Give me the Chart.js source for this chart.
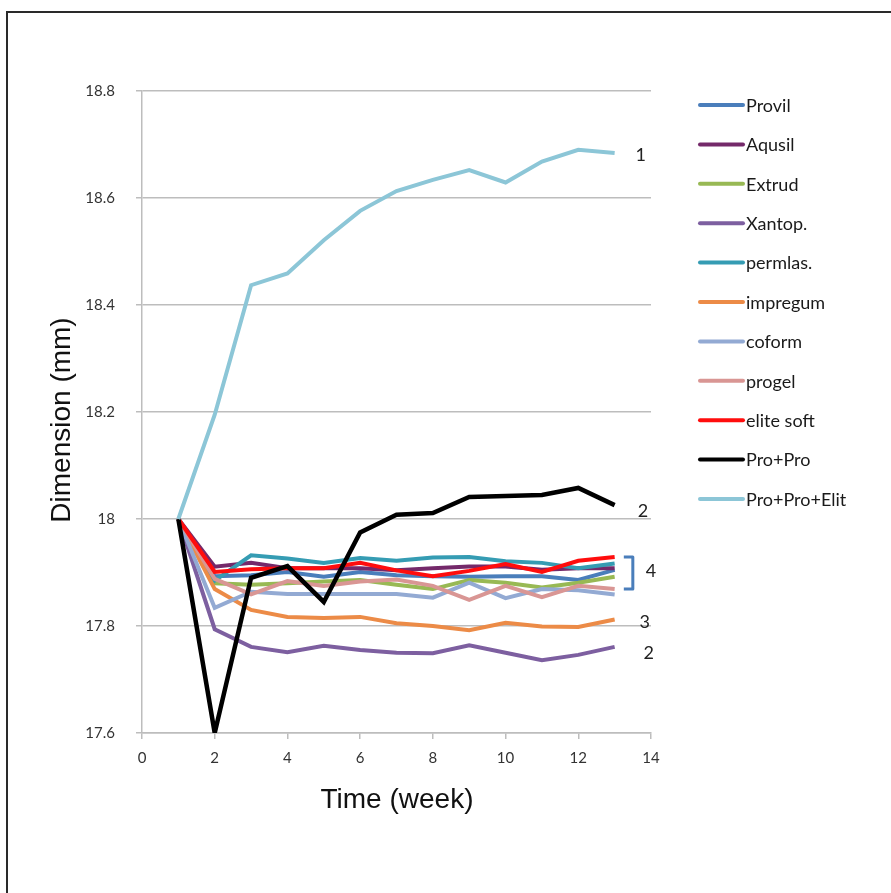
<!DOCTYPE html>
<html>
<head>
<meta charset="utf-8">
<script src="https://cdn.jsdelivr.net/npm/chart.js@4.4.1/dist/chart.umd.min.js"></script>
<style>
  html, body { margin: 0; padding: 0; background: #fff; }
  #wrap { position: absolute; left: 0; top: 0; width: 891px; height: 893px; overflow: hidden; }
  #frame { position: absolute; left: 6px; top: 11px; width: 1000px; height: 1000px;
           border-top: 2px solid #2a2a2a; border-left: 2px solid #2a2a2a; }
  canvas { position: absolute; left: 0; top: 0; }
</style>
</head>
<body>
<div id="wrap">
  <div id="frame"></div>
  <canvas id="c" width="891" height="893"></canvas>
</div>
<script>
// ---- data ----
const weeks = [1, 2, 3, 4, 5, 6, 7, 8, 9, 10, 11, 12, 13];
const seriesNames = ["Provil", "Aqusil", "Extrud", "Xantop.", "permlas.", "impregum", "coform", "progel", "elite soft", "Pro+Pro", "Pro+Pro+Elit"];
const provil     = [18, 17.893, 17.895, 17.901, 17.892, 17.901, 17.895, 17.893, 17.892, 17.893, 17.893, 17.886, 17.905];
const aqusil     = [18, 17.911, 17.918, 17.908, 17.908, 17.908, 17.904, 17.908, 17.911, 17.911, 17.905, 17.908, 17.908];
const extrud     = [18, 17.880, 17.877, 17.880, 17.883, 17.886, 17.877, 17.869, 17.886, 17.881, 17.872, 17.881, 17.892];
const xantop     = [18, 17.794, 17.761, 17.751, 17.763, 17.755, 17.750, 17.749, 17.764, 17.750, 17.736, 17.746, 17.761];
const permlas    = [18, 17.885, 17.932, 17.926, 17.918, 17.927, 17.922, 17.928, 17.929, 17.921, 17.918, 17.908, 17.917];
const impregum   = [18, 17.869, 17.830, 17.817, 17.815, 17.817, 17.805, 17.800, 17.792, 17.806, 17.799, 17.798, 17.812];
const coform     = [18, 17.834, 17.864, 17.860, 17.860, 17.860, 17.860, 17.853, 17.881, 17.852, 17.869, 17.867, 17.859];
const progel     = [18, 17.888, 17.859, 17.884, 17.875, 17.883, 17.887, 17.875, 17.849, 17.875, 17.854, 17.875, 17.869];
const eliteSoft  = [18, 17.901, 17.906, 17.908, 17.908, 17.918, 17.904, 17.893, 17.903, 17.916, 17.901, 17.922, 17.929];
const proPro     = [18, 17.600, 17.890, 17.912, 17.845, 17.975, 18.008, 18.011, 18.041, 18.043, 18.045, 18.058, 18.026];
const proProElit = [18, 18.195, 18.437, 18.459, 18.521, 18.576, 18.613, 18.634, 18.652, 18.629, 18.668, 18.690, 18.684];
const yTicks = [17.6, 17.8, 18, 18.2, 18.4, 18.6, 18.8];
const xTicks = [0, 2, 4, 6, 8, 10, 12, 14];
const annotations = [
  { text: "1", x: 13.72, y: 18.68 },
  { text: "2", x: 13.78, y: 18.015 },
  { text: "4", x: 14.0,  y: 17.903 },
  { text: "3", x: 13.83, y: 17.807 },
  { text: "2", x: 13.94, y: 17.75 }
];
const bracket = { x: 13.5, yTop: 17.929, yBottom: 17.869 };

// ---- styles ----
const allValues = [provil, aqusil, extrud, xantop, permlas, impregum, coform, progel, eliteSoft, proPro, proProElit];
const colors = ["#4A7EBB", "#74296A", "#98B954", "#7D5FA0", "#359CB3", "#EC8B47", "#93AAD3", "#D99694", "#FF0D0D", "#000000", "#8CC6D7"];
const widths = [4, 4, 4, 4, 4, 4, 4, 4, 4, 4.5, 4];

const datasets = seriesNames.map((name, i) => ({
  label: name,
  data: weeks.map((w, j) => ({ x: w, y: allValues[i][j] })),
  borderColor: colors[i],
  backgroundColor: colors[i],
  borderWidth: widths[i],
  pointRadius: 0,
  tension: 0,
  fill: false,
  order: seriesNames.length - i
}));

const TICK_FONT = { family: "Lato, 'Open Sans', sans-serif", size: 15 };
const GRID = "#BDBDBD";

const extras = {
  id: "extras",
  afterDraw(chart) {
    const ctx = chart.ctx;
    const xs = chart.scales.x, ys = chart.scales.y;
    ctx.save();
    // axis titles
    ctx.fillStyle = "#111";
    ctx.font = "28px 'Liberation Sans', Arial, sans-serif";
    ctx.textAlign = "center";
    ctx.textBaseline = "middle";
    ctx.fillText("Time (week)", 397, 800);
    ctx.save();
    ctx.translate(62, 420);
    ctx.rotate(-Math.PI / 2);
    ctx.fillText("Dimension (mm)", 0, 0);
    ctx.restore();
    // annotations
    ctx.font = "18px Lato, 'Open Sans', sans-serif";
    ctx.fillStyle = "#222";
    annotations.forEach(a => {
      ctx.fillText(a.text, xs.getPixelForValue(a.x), ys.getPixelForValue(a.y));
    });
    // bracket
    const bx = xs.getPixelForValue(bracket.x);
    const by1 = ys.getPixelForValue(bracket.yTop);
    const by2 = ys.getPixelForValue(bracket.yBottom);
    ctx.strokeStyle = "#4A7EBB";
    ctx.lineWidth = 3;
    ctx.lineJoin = "round";
    ctx.beginPath();
    ctx.moveTo(bx - 9, by1);
    ctx.lineTo(bx, by1);
    ctx.lineTo(bx, by2);
    ctx.lineTo(bx - 9, by2);
    ctx.stroke();
    // legend
    const lx = 700, ly0 = 105, step = 39.4;
    ctx.textAlign = "left";
    ctx.font = "18px Lato, 'Open Sans', sans-serif";
    chart.data.datasets.forEach((ds, i) => {
      const y = ly0 + i * step;
      ctx.strokeStyle = ds.borderColor;
      ctx.lineWidth = 4;
      ctx.lineCap = "round";
      ctx.beginPath();
      ctx.moveTo(lx, y);
      ctx.lineTo(lx + 43, y);
      ctx.stroke();
      ctx.fillStyle = "#1a1a1a";
      ctx.fillText(ds.label, lx + 46, y + 1);
    });
    ctx.restore();
  }
};

new Chart(document.getElementById("c"), {
  type: "line",
  data: { datasets },
  options: {
    responsive: false,
    devicePixelRatio: 1,
    animation: false,
    events: [],
    layout: { padding: { left: 0, top: 91, right: 240, bottom: 0 } },
    plugins: { legend: { display: false }, tooltip: { enabled: false } },
    scales: {
      x: {
        type: "linear",
        min: 0, max: 14,
        afterFit(s) { s.height = 160; },
        afterBuildTicks(s) { s.ticks = xTicks.map(v => ({ value: v })); },
        grid: { drawOnChartArea: false, drawTicks: true, tickLength: 6, color: GRID, lineWidth: 1.5 },
        border: { display: true, color: GRID, width: 1.5 },
        ticks: { font: TICK_FONT, color: "#333", padding: 10, maxRotation: 0, autoSkip: false,
                 callback: v => String(v) }
      },
      y: {
        type: "linear",
        min: 17.6, max: 18.8,
        afterFit(s) { s.width = 142; },
        afterBuildTicks(s) { s.ticks = yTicks.map(v => ({ value: v })); },
        grid: { drawOnChartArea: true, drawTicks: true, tickLength: 6, color: GRID, lineWidth: 1.5 },
        border: { display: true, color: GRID, width: 1.5 },
        ticks: { font: TICK_FONT, color: "#333", padding: 21, autoSkip: false,
                 callback: v => String(Number(v.toFixed(1))) }
      }
    }
  },
  plugins: [extras]
});
</script>
</body>
</html>
